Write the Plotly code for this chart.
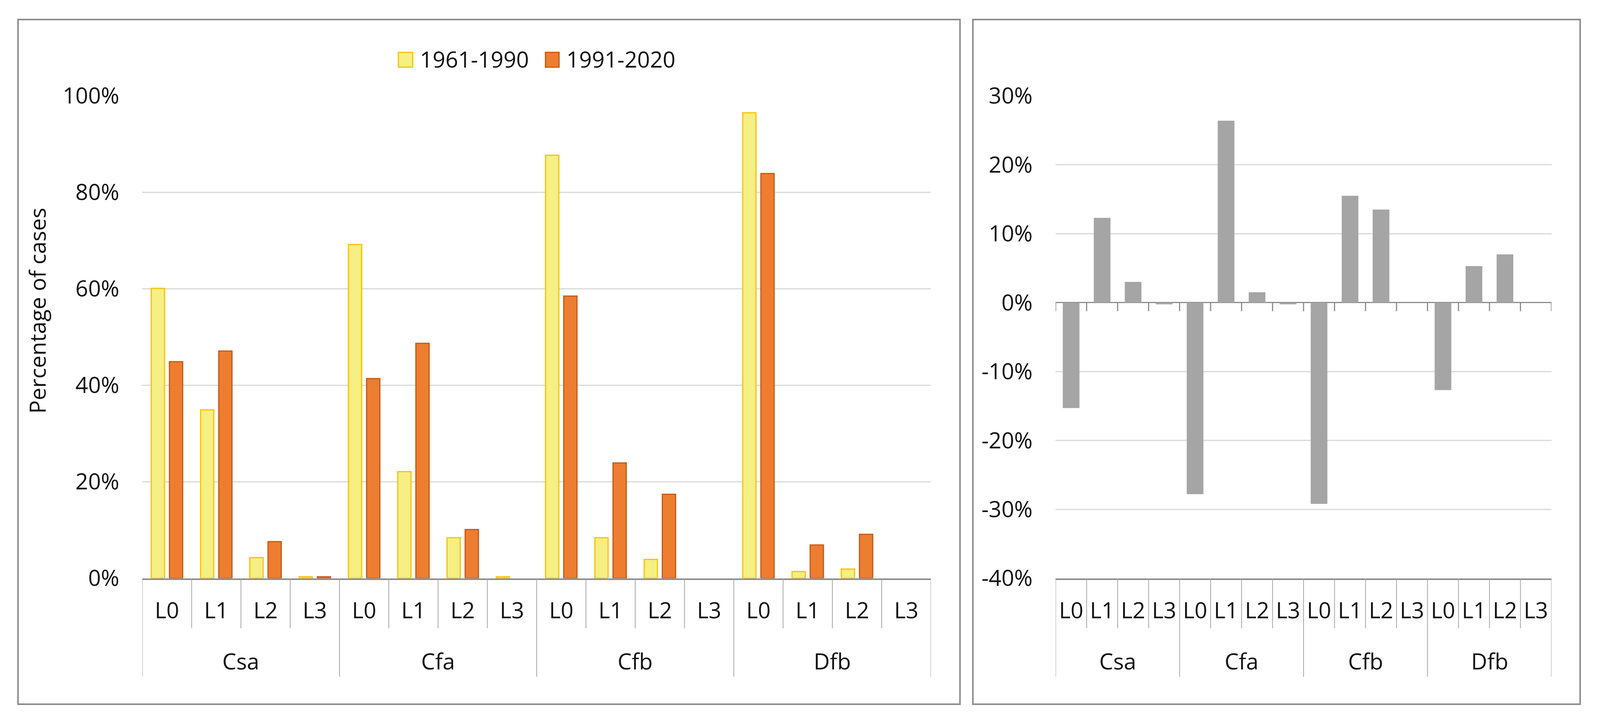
import plotly.graph_objects as go

# ---------------- data ----------------
groups = ["Csa", "Cfa", "Cfb", "Dfb"]
levels = ["L0", "L1", "L2", "L3"]
series_names = ["1961-1990", "1991-2020"]

pct_1961_1990 = [60.1, 34.9, 4.3, 0.3,
                 69.2, 22.1, 8.4, 0.3,
                 87.7, 8.4, 3.9, 0.0,
                 96.5, 1.4, 1.9, 0.0]
pct_1991_2020 = [44.9, 47.1, 7.6, 0.3,
                 41.4, 48.7, 10.1, 0.0,
                 58.5, 23.9, 17.4, 0.0,
                 83.9, 6.9, 9.1, 0.0]
diff_pct = [-15.3, 12.3, 3.0, -0.25,
            -27.8, 26.4, 1.5, -0.25,
            -29.2, 15.5, 13.5, 0.0,
            -12.7, 5.3, 7.0, 0.0]

left_tick_vals = [0, 20, 40, 60, 80, 100]
left_tick_labels = ["0%", "20%", "40%", "60%", "80%", "100%"]
right_tick_vals = [-40, -30, -20, -10, 0, 10, 20, 30]
right_tick_labels = ["-40%", "-30%", "-20%", "-10%", "0%", "10%", "20%", "30%"]
y_title = "Percentage of cases"

# ---------------- derived category positions ----------------
n_lv = len(levels)
positions = list(range(len(groups) * n_lv))
tick_text = [lv for g in groups for lv in levels]
group_centers = [gi * n_lv + (n_lv - 1) / 2 for gi in range(len(groups))]
boundaries = [p - 0.5 for p in positions] + [positions[-1] + 0.5]
x_range = [-0.5, positions[-1] + 0.5]
left_range = [0, 100]
right_range = [-40, 30]

def drop_zero(vals):
    # zero-height bars are not drawn at all (no outline stub)
    return [v if v != 0 else None for v in vals]

# ---------------- layout helpers (reference pixel grid) ----------------
W, H = 4350, 1846
def px(x):
    return x / W
def py(y):
    return 1 - y / H

FONT = "Open Sans"
FS = 57
TXT = "#111111"
GRID = "#D9D9D9"
AXIS = "#8C8C8C"
DIV = "#A6A6A6"

Y_DOM = [py(1480.5), py(245.5)]

fig = go.Figure()
fig.add_trace(go.Bar(x=positions, y=drop_zero(pct_1961_1990), name=series_names[0],
                     marker=dict(color="#F5EF84", line=dict(color="#FFC000", width=3)),
                     xaxis="x", yaxis="y", showlegend=False))
fig.add_trace(go.Bar(x=positions, y=drop_zero(pct_1991_2020), name=series_names[1],
                     marker=dict(color="#ED7D31", line=dict(color="#C55A11", width=3)),
                     xaxis="x", yaxis="y", showlegend=False))
fig.add_trace(go.Bar(x=positions, y=drop_zero(diff_pct), name="difference",
                     marker=dict(color="#A5A5A5", line=dict(width=0)),
                     xaxis="x2", yaxis="y2", showlegend=False))

axis_common_x = dict(range=x_range, tickvals=positions, ticktext=tick_text,
                     showline=True, linecolor=AXIS, linewidth=4, ticks="", showgrid=False,
                     zeroline=False, tickfont=dict(family=FONT, size=FS, color=TXT),
                     ticklabelstandoff=30, automargin=False, fixedrange=True)
axis_common_y = dict(gridcolor=GRID, gridwidth=3, showline=False, ticks="",
                     tickfont=dict(family=FONT, size=FS, color=TXT),
                     ticklabelstandoff=58, automargin=False, fixedrange=True)

fig.update_layout(
    autosize=True,
    margin=dict(l=0, r=0, t=0, b=0),
    paper_bgcolor="white", plot_bgcolor="white",
    barmode="group", bargap=0.263, bargroupgap=0.27,
    font=dict(family=FONT, size=FS, color=TXT),
    xaxis=dict(domain=[px(387), px(2531)], anchor="y", **axis_common_x),
    yaxis=dict(domain=Y_DOM, anchor="x", range=left_range,
               tickvals=left_tick_vals, ticktext=left_tick_labels, zeroline=False,
               **axis_common_y),
    xaxis2=dict(domain=[px(2870), px(4218)], anchor="y2", **axis_common_x),
    yaxis2=dict(domain=Y_DOM, anchor="x2", range=right_range,
                tickvals=right_tick_vals, ticktext=right_tick_labels,
                zeroline=True, zerolinecolor=AXIS, zerolinewidth=3,
                **axis_common_y),
)

shapes = []
# panel borders
for x0, x1 in [(49, 2610), (2645, 4296)]:
    shapes.append(dict(type="rect", xref="paper", yref="paper",
                       x0=px(x0), x1=px(x1), y0=py(1803), y1=py(50),
                       line=dict(color=AXIS, width=4), fillcolor="rgba(0,0,0,0)", layer="below"))

# category dividers below both plots (x in data units, y in paper units)
axis_bottom = Y_DOM[0]
for xr in ["x", "x2"]:
    for i, b in enumerate(boundaries):
        length = 252 if i % n_lv == 0 else 128
        shapes.append(dict(type="line", xref=xr, yref="paper", x0=b, x1=b,
                           y0=axis_bottom, y1=axis_bottom - length / H,
                           line=dict(color=DIV, width=2)))
# tick marks hanging below the zero line of the right plot
zero_frac = Y_DOM[0] + (0 - right_range[0]) / (right_range[1] - right_range[0]) * (Y_DOM[1] - Y_DOM[0])
for b in boundaries:
    shapes.append(dict(type="line", xref="x2", yref="paper", x0=b, x1=b,
                       y0=zero_frac, y1=zero_frac - 22 / H,
                       line=dict(color=AXIS, width=3)))

# custom legend swatches
legend_items = [(1083, 1122, "#F5EF84", "#FFC000"), (1483, 1520, "#ED7D31", "#C55A11")]
for x0, x1, fc, lc in legend_items:
    shapes.append(dict(type="rect", xref="paper", yref="paper",
                       x0=px(x0), x1=px(x1), y0=py(172), y1=py(134),
                       fillcolor=fc, line=dict(color=lc, width=3)))

annotations = []
for (x0, x1, fc, lc), name in zip(legend_items, series_names):
    annotations.append(dict(xref="paper", yref="paper", x=px(x1 + 18), y=py(151),
                            xanchor="left", yanchor="middle", text=name, showarrow=False,
                            font=dict(family=FONT, size=FS, color=TXT)))
# group labels
for xr in ["x", "x2"]:
    for gc, g in zip(group_centers, groups):
        annotations.append(dict(xref=xr, yref="paper", x=gc, y=py(1692),
                                xanchor="center", yanchor="middle", text=g, showarrow=False,
                                font=dict(family=FONT, size=FS, color=TXT)))
# y axis title
annotations.append(dict(xref="paper", yref="paper", x=px(101), y=py(796),
                        xanchor="center", yanchor="middle", text=y_title, textangle=-90,
                        showarrow=False, font=dict(family=FONT, size=FS, color=TXT)))

fig.update_layout(shapes=shapes, annotations=annotations)

fig.write_html(
    "out.html",
    config={"displayModeBar": False, "staticPlot": True},
    default_width="100vw",
    default_height="100vh",
    post_script=("document.body.style.margin='0';"
                 "document.documentElement.style.overflow='hidden';"
                 "document.body.style.overflow='hidden';"
                 "Plotly.Plots.resize(document.getElementById('{plot_id}'));"),
)
